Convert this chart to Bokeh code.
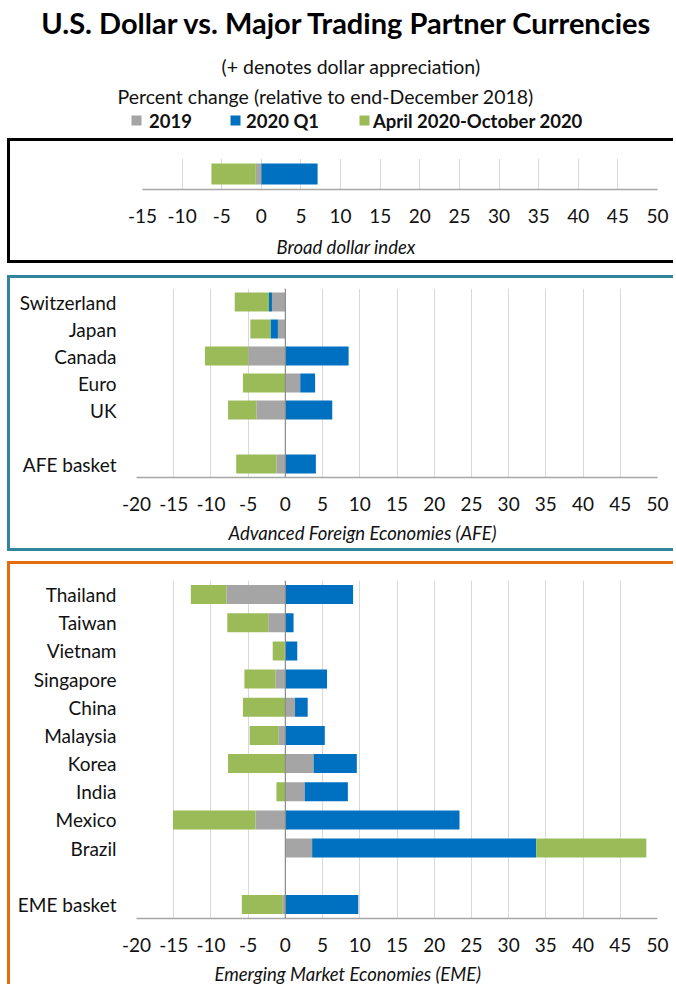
import numpy as np
from bokeh.plotting import figure
from bokeh.layouts import column
from bokeh.models import FactorRange, Range1d, Span, FixedTicker, Title
from bokeh.core.properties import value
from bokeh.embed import file_html
from bokeh.resources import INLINE

FONT = "Lato"

# ---------------- data ----------------
series_names = ["2019", "2020 Q1", "April 2020-October 2020"]
series_colors = ["#A5A5A5", "#0070C0", "#9BBB59"]

broad_cats = ["Broad dollar index"]
broad_2019 = [-0.7]
broad_q1 = [7.1]
broad_aprOct = [-5.6]

afe_cats = ["Switzerland", "Japan", "Canada", "Euro", "UK", " ", "AFE basket"]
afe_2019 = [-1.8, -1.0, -5.0, 2.0, -3.9, 0.0, -1.2]
afe_q1 = [-0.4, -1.0, 8.5, 2.0, 6.3, 0.0, 4.1]
afe_aprOct = [-4.6, -2.7, -5.8, -5.7, -3.8, 0.0, -5.4]

eme_cats = ["Thailand", "Taiwan", "Vietnam", "Singapore", "China", "Malaysia",
            "Korea", "India", "Mexico", "Brazil", " ", "EME basket"]
eme_2019 = [-7.9, -2.3, -0.1, -1.3, 1.3, -0.9, 3.8, 2.6, -4.0, 3.6, 0.0, -0.35]
eme_q1 = [9.1, 1.1, 1.6, 5.6, 1.7, 5.3, 5.8, 5.8, 23.4, 30.1, 0.0, 9.8]
eme_aprOct = [-4.8, -5.5, -1.6, -4.2, -5.7, -3.9, -7.7, -1.2, -11.1, 14.8, 0.0, -5.5]

x_ticks = list(range(-20, 51, 5))
x_tick_labels = [str(t) for t in x_ticks]


def stack(series):
    n = len(series[0])
    pos = np.zeros(n)
    neg = np.zeros(n)
    out = []
    for v in series:
        v = np.asarray(v, dtype=float)
        isp = v >= 0
        left = np.where(isp, pos, neg + v)
        right = np.where(isp, pos + v, neg)
        pos = np.where(isp, pos + v, pos)
        neg = np.where(isp, neg, neg + v)
        out.append((left, right))
    return out


def panel(cats, series, height, borders, x_start, css, title, title_offset, title_standoff,
          bar_h, show_y=True):
    top, bottom, left, right = borders
    p = figure(width=666, height=height, y_range=FactorRange(*reversed(cats)),
               x_range=Range1d(x_start, 50), output_backend="svg", toolbar_location=None,
               min_border_top=top, min_border_bottom=bottom, min_border_left=left,
               min_border_right=right)
    p.styles = css
    for (l, r), c in zip(stack(series), series_colors):
        p.hbar(y=cats, left=l, right=r, height=bar_h, fill_color=c, line_color=None)
    p.outline_line_color = None
    p.ygrid.grid_line_color = None
    ticks = [t for t in x_ticks if t >= x_start]
    p.xgrid.ticker = FixedTicker(ticks=ticks)
    p.xgrid.grid_line_color = "#D9D9D9"
    xa = p.xaxis[0]
    xa.ticker = FixedTicker(ticks=ticks)
    xa.major_label_overrides = {t: s for t, s in zip(x_ticks, x_tick_labels) if t >= x_start}
    xa.major_tick_line_color = None
    xa.minor_tick_line_color = None
    xa.axis_line_color = "#A6A6A6"
    xa.axis_line_width = 1.5
    xa.major_label_text_font = FONT
    xa.major_label_text_font_size = "19px"
    xa.major_label_text_color = "#111111"
    xa.major_label_standoff = 13
    ya = p.yaxis[0]
    if show_y:
        ya.axis_line_color = None
        ya.major_tick_line_color = None
        ya.minor_tick_line_color = None
        ya.major_tick_out = 0
        ya.major_tick_in = 0
        ya.major_label_text_font = FONT
        ya.major_label_text_font_size = "19px"
        ya.major_label_text_color = "#111111"
        ya.major_label_standoff = 20
        p.add_layout(Span(location=0, dimension="height", line_color="#8C8C8C", line_width=1.2))
    else:
        ya.visible = False
    p.add_layout(Title(text=title, align="left", offset=title_offset, text_font=FONT,
                       text_font_style="italic", text_font_size="18.5px",
                       text_color="#111111", standoff=title_standoff), "below")
    return p


# ---------------- header ----------------
H_HEAD = 138
head = figure(width=676, height=H_HEAD, x_range=Range1d(0, 676), y_range=Range1d(H_HEAD, 0),
              output_backend="svg", toolbar_location=None, min_border=0)
head.axis.visible = False
head.grid.grid_line_color = None
head.outline_line_color = None
head.text(x=[347], y=[22], text=["U.S. Dollar vs. Major Trading Partner Currencies"],
          text_font=value(FONT), text_font_style="bold", text_font_size="29px",
          text_align="center", text_baseline="middle", text_color="#000000")
head.text(x=[350.5], y=[66], text=["(+ denotes dollar appreciation)"],
          text_font=value(FONT), text_font_size="19.5px",
          text_align="center", text_baseline="middle", text_color="#111111")
head.text(x=[117], y=[96], text=["Percent change (relative to end-December 2018)"],
          text_font=value(FONT), text_font_size="19.5px",
          text_align="left", text_baseline="middle", text_color="#111111")
leg_sq_x = [136, 235, 364]
leg_tx_x = [148.5, 245.5, 372.5]
head.rect(x=leg_sq_x, y=[120] * 3, width=10, height=10, fill_color=series_colors, line_color=None)
head.text(x=leg_tx_x, y=[120] * 3, text=series_names,
          text_font=value(FONT), text_font_style="bold", text_font_size="18.5px",
          text_align="left", text_baseline="middle", text_color="#111111")

# ---------------- panels ----------------
def box_css(color, bottom=True):
    css = {"margin-left": "7px",
           "border-left": f"3px solid {color}", "border-top": f"3px solid {color}"}
    if bottom:
        css["border-bottom"] = f"3px solid {color}"
    return css


p1 = panel(broad_cats, [broad_2019, broad_q1, broad_aprOct], 125, (17, 76, 132, 19), -15,
           box_css("#000000"), "Broad dollar index", 134, 17, 0.68, show_y=False)
p2 = panel(afe_cats, [afe_2019, afe_q1, afe_aprOct], 276, (10, 77, 126, 19), -20,
           box_css("#31849B"), "Advanced Foreign Economies (AFE)", 92, 13, 0.70)
p3 = panel(eme_cats, [eme_2019, eme_q1, eme_aprOct], 440, (16, 86, 126, 19), -20,
           box_css("#E46C0A", bottom=False),
           "Emerging Market Economies (EME)", 78, 12, 0.675)

layout = column(column(head),
                column(p1),
                column(p2, styles={"margin-top": "12px"}),
                column(p3, styles={"margin-top": "10px"}),
                spacing=0)
open("out.html", "w").write(file_html(layout, INLINE))
